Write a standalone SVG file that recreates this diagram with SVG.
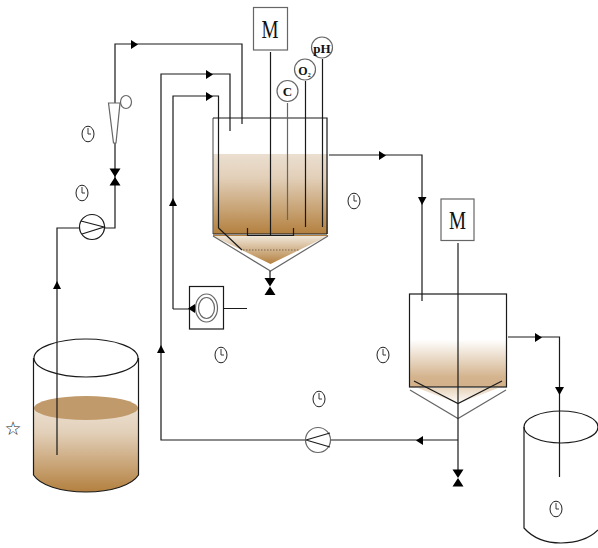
<svg xmlns="http://www.w3.org/2000/svg" width="598" height="548" viewBox="0 0 598 548">
<style>
.l{fill:none;stroke:#1a1a1a;stroke-width:1.2}
.g{fill:none;stroke:#666;stroke-width:1.2}
.a{fill:#000;stroke:none}
.ck{fill:#fff;stroke:#222;stroke-width:1}
.t{font-family:"Liberation Serif",serif;fill:#111;text-anchor:middle}
.b{font-weight:bold}
</style>
<defs>
<linearGradient id="g1" x1="0" y1="0" x2="0" y2="1"><stop offset="0" stop-color="#ebdfd0"/><stop offset=".3" stop-color="#e2cfb8"/><stop offset="1" stop-color="#b3803f"/></linearGradient>
<linearGradient id="g2" x1="0" y1="0" x2="0" y2="1"><stop offset="0" stop-color="#fff"/><stop offset=".49" stop-color="#fff"/><stop offset=".89" stop-color="#d4b48e"/><stop offset="1" stop-color="#d2b08a"/></linearGradient>
<linearGradient id="g3" x1="0" y1="0" x2="0" y2="1"><stop offset="0" stop-color="#f0e6d8"/><stop offset="1" stop-color="#b3803f"/></linearGradient>
<linearGradient id="g4" x1="0" y1="0" x2="0" y2="1"><stop offset="0" stop-color="#e8d4bb"/><stop offset="1" stop-color="#fff"/></linearGradient>
<symbol id="clock" viewBox="-7 -9 14 18" overflow="visible"><ellipse class="ck" cx="0" cy="0" rx="6" ry="7.800"/><path d="M0-6V0H3" fill="none" stroke="#222" stroke-width=".9"/></symbol>
<g id="valve"><path class="a" d="M-5.500-8.500H5.500L0 0ZM-5.500 8.500H5.500L0 0Z"/></g>
</defs>

<g id="feed-tank">
<path d="M33.500 408V475C40 485 60 492 86 492S132 485 138.500 475V408Z" fill="url(#g1)"/>
<ellipse cx="86" cy="408" rx="52" ry="12" fill="#c19a6b"/>
<ellipse cx="86" cy="358" rx="52" ry="19" class="l"/>
<path class="l" d="M33.500 358V475C40 485 60 492 86 492S132 485 138.500 475V358"/>
</g>
<g id="reactor">
<rect x="213" y="154" width="115" height="80" fill="url(#g1)"/>
<path d="M213 236H328L270.500 264Z" fill="url(#g3)"/>
<path class="g" d="M213 118V234"/>
<path class="l" d="M213 118H327V234M213 234H327"/>
<path d="M213 235.500H328" stroke="#b3803f" stroke-width="1"/>
<path class="g" d="M213 236L270.500 271L328 236"/>
<path d="M243 250H300" stroke="#7a6650" stroke-width="1.200" stroke-dasharray="1.500 1.500"/>
<path class="l" d="M247.500 228V235.500H293.500V228"/>
</g>
<g id="settler">
<rect x="409.500" y="294" width="97" height="93" fill="url(#g2)"/>
<path d="M418 388H498L458 404Z" fill="url(#g4)"/>
<rect x="409.500" y="294" width="97" height="93" class="l"/>
<path class="l" d="M414 381L458 403.500L502 381"/>
<path class="g" d="M410 390L458 418.500L506 390"/>
</g>
<g id="effluent-tank">
<ellipse cx="561" cy="427" rx="37" ry="16" class="l"/>
<path class="l" d="M524 427V528C532 537 545 543 561 543S590 538 598 530"/>
</g>

<g id="connectors">
<path class="l" d="M57 455V228H80M104 228H115V143M115 103V44H242V124"/>
<path class="l" d="M230 131V74H161V440H306M330 440H458"/>
<path class="l" d="M173 309V96H218.500V228L242 250M173 309H190M224 308.500H247"/>
<path class="l" d="M270.500 52V235"/>
<path class="g" d="M287.500 103V220"/>
<path class="l" d="M305.500 81V227M322.500 59V227"/>
<path class="l" d="M270 271V278M329 155H422V301"/>
<path class="l" d="M458 243V470"/>
<path class="l" d="M508 337H559.500V477"/>
<path class="a" d="M131 40L138 44.500L131 49ZM206 70L213 74.500L206 79ZM206 92L213 96.500L206 101ZM379 151L386 155.500L379 160ZM535 333L542 337.500L535 342Z"/>
<path class="a" d="M418 197H426.500L422 205ZM555 387H564L559.500 395Z"/>
<path class="a" d="M53 289L57 281L61 289ZM169 206L173 198L177 206ZM157 353L161 345L165 353Z"/>
<path class="a" d="M416 440.500L423 436V445Z"/>
</g>

<g id="valve-1"><use href="#valve" x="115" y="177"/></g>
<g id="valve-2"><use href="#valve" x="270" y="286.500"/></g>
<g id="valve-3"><use href="#valve" x="458" y="478"/></g>

<g id="pump-1">
<circle cx="92" cy="227" r="12.500" class="l"/>
<path class="l" d="M81 221L104 227L82 234"/>
</g>
<g id="pump-2">
<circle cx="318" cy="440" r="12.500" class="g"/>
<path class="l" d="M306 440L330 433M306 440L330 447"/>
</g>
<g id="rotameter">
<path class="g" d="M108.500 103H120L116 143H113.500Z"/>
<ellipse cx="126" cy="102" rx="5.500" ry="6.500" class="g"/>
</g>
<g id="recycle-pump">
<rect x="189.500" y="286.500" width="34" height="42.500" class="l"/>
<ellipse cx="206.500" cy="308" rx="11" ry="14" class="g"/>
<ellipse cx="206.500" cy="308" rx="8" ry="10.500" class="g"/>
<path class="a" d="M188 308.500L195 304V313Z"/>
</g>
<g id="motor-1">
<rect x="253.500" y="7.500" width="34" height="42.500" class="g"/>
<text class="t" x="270" y="38" font-size="25" textLength="17" lengthAdjust="spacingAndGlyphs">M</text>
</g>
<g id="motor-2">
<rect x="441" y="199" width="33" height="41.500" class="g"/>
<text class="t" x="457.500" y="229" font-size="25" textLength="17" lengthAdjust="spacingAndGlyphs">M</text>
</g>
<g id="sensor-c">
<circle cx="287.500" cy="91" r="10.500" class="g"/>
<text class="t b" x="287.500" y="96" font-size="13" fill="#444">C</text>
</g>
<g id="sensor-o2">
<circle cx="305" cy="69.500" r="10.500" class="g"/>
<text class="t b" x="304.500" y="75" font-size="12">O<tspan font-size="6" dy="2">2</tspan></text>
</g>
<g id="sensor-ph">
<circle cx="322" cy="47.500" r="10.500" class="g"/>
<text class="t b" x="322" y="53" font-size="13">pH</text>
</g>
<g id="clocks">
<use href="#clock" x="81" y="125" width="14" height="18"/>
<use href="#clock" x="75" y="184" width="14" height="18"/>
<use href="#clock" x="347" y="192" width="14" height="18"/>
<use href="#clock" x="214" y="346" width="14" height="18"/>
<use href="#clock" x="376" y="346" width="14" height="18"/>
<use href="#clock" x="312" y="390" width="14" height="18"/>
<use href="#clock" x="549" y="500" width="14" height="18"/>
</g>
<text id="star" x="13" y="435" font-size="19" text-anchor="middle" font-family="'DejaVu Sans',sans-serif" fill="#222">☆</text>
</svg>
